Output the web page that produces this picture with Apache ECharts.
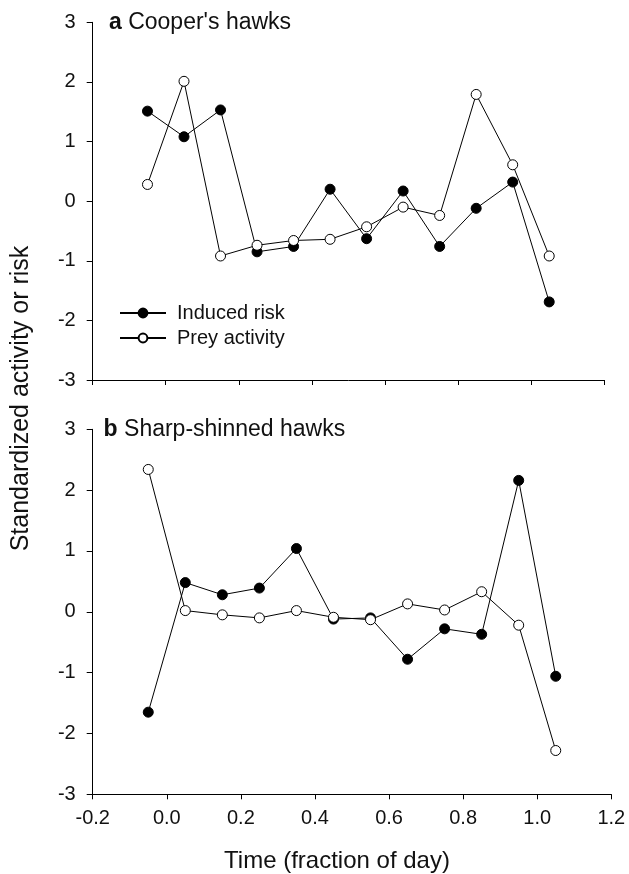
<!DOCTYPE html>
<html>
<head>
<meta charset="utf-8">
<script src="https://cdn.jsdelivr.net/npm/echarts@6/dist/echarts.min.js"></script>
<style>
html,body{margin:0;padding:0;background:#fff;}
#chart{width:629px;height:874px;}
</style>
</head>
<body>
<div id="chart"></div>
<script>
// Time (fraction of day)
var timeValues = [-0.05, 0.05, 0.15, 0.25, 0.35, 0.45, 0.55, 0.65, 0.75, 0.85, 0.95, 1.05];
// a Cooper's hawks
var coopersInducedRisk = [1.51, 1.08, 1.53, -0.85, -0.76, 0.20, -0.63, 0.17, -0.76, -0.12, 0.32, -1.69];
var coopersPreyActivity = [0.28, 2.01, -0.92, -0.74, -0.66, -0.64, -0.43, -0.10, -0.24, 1.79, 0.61, -0.92];
// b Sharp-shinned hawks
var sharpInducedRisk = [-1.65, 0.48, 0.28, 0.39, 1.04, -0.12, -0.10, -0.78, -0.28, -0.37, 2.16, -1.06];
var sharpPreyActivity = [2.34, 0.02, -0.05, -0.10, 0.02, -0.09, -0.13, 0.13, 0.03, 0.33, -0.22, -2.28];
// Text
var seriesNames = ['Induced risk', 'Prey activity'];
var panelLetters = ['a', 'b'];
var panelTitles = [" Cooper's hawks", ' Sharp-shinned hawks'];
var xAxisTitle = 'Time (fraction of day)';
var yAxisTitle = 'Standardized activity or risk';

var FONT = '"Liberation Sans", Arial, Helvetica, sans-serif';

function pairs(xs, ys) { return xs.map(function (x, i) { return [x, ys[i]]; }); }

function xAxisCfg(gridIndex, showLabels) {
  return {
    type: 'value', gridIndex: gridIndex, min: -0.2, max: 1.2, interval: 0.2,
    axisLine: { show: true, onZero: false, lineStyle: { color: '#000', width: 1 } },
    axisTick: { show: true, inside: false, length: 5, lineStyle: { color: '#000', width: 1 } },
    axisLabel: {
      show: showLabels, margin: 14, color: '#111', fontSize: 20, fontFamily: FONT,
      formatter: function (v) { if (Math.abs(v) < 1e-9) v = 0; return v.toFixed(1); }
    },
    splitLine: { show: false }
  };
}
function yAxisCfg(gridIndex) {
  return {
    type: 'value', gridIndex: gridIndex, min: -3, max: 3, interval: 1,
    axisLine: { show: true, onZero: false, lineStyle: { color: '#000', width: 1 } },
    axisTick: { show: true, inside: false, length: 6, lineStyle: { color: '#000', width: 1 } },
    axisLabel: { margin: 17, color: '#111', fontSize: 20, fontFamily: FONT },
    splitLine: { show: false }
  };
}
function filledSeries(name, idx, ys) {
  return {
    name: name, type: 'line', xAxisIndex: idx, yAxisIndex: idx,
    data: pairs(timeValues, ys), symbol: 'circle', symbolSize: 10,
    itemStyle: { color: '#000', borderColor: '#000', borderWidth: 1 },
    lineStyle: { color: '#000', width: 1 }, z: 2
  };
}
function openSeries(name, idx, ys) {
  return {
    name: name, type: 'line', xAxisIndex: idx, yAxisIndex: idx,
    data: pairs(timeValues, ys), symbol: 'circle', symbolSize: 10,
    itemStyle: { color: '#fff', borderColor: '#000', borderWidth: 1 },
    lineStyle: { color: '#000', width: 1 }, z: 3
  };
}

var chart = echarts.init(document.getElementById('chart'), null, { renderer: 'canvas' });
chart.setOption({
  animation: false,
  backgroundColor: '#fff',
  grid: [
    { left: 92.7, top: 22.3, width: 511.3, height: 357.7 },
    { left: 92.7, top: 429.3, width: 518.6, height: 365 }
  ],
  xAxis: [xAxisCfg(0, false), xAxisCfg(1, true)],
  yAxis: [yAxisCfg(0), yAxisCfg(1)],
  legend: {
    orient: 'vertical', left: 119, top: 303, padding: 0,
    itemWidth: 46, itemHeight: 11, itemGap: 5,
    data: seriesNames,
    textStyle: { fontSize: 20, color: '#111', fontFamily: FONT, padding: [0, 0, 0, 6] }
  },
  series: [
    filledSeries(seriesNames[0], 0, coopersInducedRisk),
    openSeries(seriesNames[1], 0, coopersPreyActivity),
    filledSeries(seriesNames[0], 1, sharpInducedRisk),
    openSeries(seriesNames[1], 1, sharpPreyActivity)
  ],
  graphic: [
    {
      type: 'text', x: 21, y: 398.5, rotation: Math.PI / 2,
      style: { text: yAxisTitle, fontSize: 25, fontFamily: FONT, fill: '#111', align: 'center', verticalAlign: 'middle' }
    },
    {
      type: 'text', x: 337, y: 861,
      style: { text: xAxisTitle, fontSize: 24, fontFamily: FONT, fill: '#111', align: 'center', verticalAlign: 'middle' }
    },
    {
      type: 'text', x: 109, y: 23,
      style: {
        text: '{b|' + panelLetters[0] + '}' + panelTitles[0], fontSize: 23, fontFamily: FONT, fill: '#111',
        align: 'left', verticalAlign: 'middle',
        rich: { b: { fontWeight: 'bold', fontSize: 23, fontFamily: FONT, fill: '#111' } }
      }
    },
    {
      type: 'text', x: 103.6, y: 430,
      style: {
        text: '{b|' + panelLetters[1] + '}' + panelTitles[1], fontSize: 23, fontFamily: FONT, fill: '#111',
        align: 'left', verticalAlign: 'middle',
        rich: { b: { fontWeight: 'bold', fontSize: 23, fontFamily: FONT, fill: '#111' } }
      }
    }
  ]
});
</script>
</body>
</html>
